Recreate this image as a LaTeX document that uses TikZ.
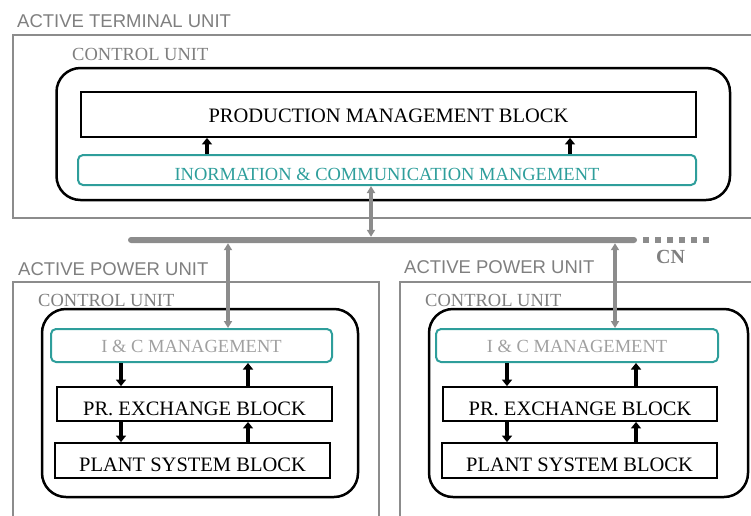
\documentclass[tikz,border=0pt]{standalone}
\usepackage{fontspec}
\setmainfont{Liberation Serif}
\newfontfamily\arialf{Liberation Sans}
\usetikzlibrary{arrows.meta}
\definecolor{boxgray}{HTML}{8C8C8C}
\definecolor{labgray}{HTML}{7F7F7F}
\definecolor{tealc}{HTML}{2E9E9B}
\definecolor{icgray}{HTML}{A0A0A0}
\newcommand{\lowertext}[2]{\raisebox{-#1}[\height][\depth]{#2}}
\begin{document}
\begin{tikzpicture}[x=1pt,y=-1pt,
 unitlabel/.style={anchor=west,inner sep=0,text=labgray,font=\arialf\fontsize{18.5}{20}\selectfont},
 culabel/.style={anchor=west,inner sep=0,text=labgray,font=\fontsize{18.5}{20}\selectfont},
 outerbox/.style={draw=boxgray,line width=2pt},
 cubox/.style={draw=black,line width=2.5pt,rounded corners=24pt,inner sep=0},
 blockbox/.style={draw=black,line width=1.8pt,inner sep=0,font=\fontsize{20.5}{22}\selectfont},
 icbox/.style={draw=tealc,line width=2pt,rounded corners=5pt,inner sep=0,font=\fontsize{18.5}{20}\selectfont},
 barrow/.style={line width=4.5pt,-{Triangle[width=10pt,length=6.5pt]}},
 garrow/.style={draw=boxgray,line width=3.5pt,{Triangle[width=8pt,length=7pt]}-{Triangle[width=8pt,length=7pt]}},
 busline/.style={fill=boxgray,draw=none,rounded corners=3pt,inner sep=0,minimum height=6pt},
 cndash/.style={draw=boxgray,line width=6pt,dash pattern=on 6pt off 6pt},
]
\clip (0,0) rectangle (751,515);

% outer units
\draw[outerbox] (13,35) rectangle (770,218);
\draw[outerbox] (13,282) rectangle (379,530);
\draw[outerbox] (400,282) rectangle (770,530);

\node[unitlabel] (atulab) at (17,21.5) {ACTIVE TERMINAL UNIT};
\node[unitlabel] (apulab1) at (18,269) {ACTIVE POWER UNIT};
\node[unitlabel] (apulab2) at (404,267) {ACTIVE POWER UNIT};

\node[culabel] (culab0) at (72,54) {CONTROL UNIT};
\node[culabel] (culab1) at (38,300) {CONTROL UNIT};
\node[culabel] (culab2) at (425,300) {CONTROL UNIT};

% control unit boxes
\node[cubox,minimum width=673.5pt,minimum height=132pt] (cu0) at (393.25,134) {};
\node[cubox,minimum width=316pt,minimum height=188pt] (cu1) at (200,403) {};
\node[cubox,minimum width=319pt,minimum height=188pt] (cu2) at (588.5,403) {};

% top blocks
\node[blockbox,minimum width=615pt,minimum height=45pt] (pmb) at (388.5,114.5) {\lowertext{1pt}{PRODUCTION MANAGEMENT BLOCK}};
\node[icbox,text=tealc,minimum width=618pt,minimum height=30pt] (icm) at (387,170) {\lowertext{4pt}{INORMATION \& COMMUNICATION MANGEMENT}};

% left power unit blocks
\node[icbox,text=icgray,minimum width=281pt,minimum height=33pt] (ic1) at (191.5,345.5) {\lowertext{1pt}{I \& C MANAGEMENT}};
\node[blockbox,minimum width=275pt,minimum height=34pt] (pr1) at (194.5,404) {\lowertext{5pt}{PR. EXCHANGE BLOCK}};
\node[blockbox,minimum width=275pt,minimum height=35pt] (ps1) at (192.5,460.5) {\lowertext{4pt}{PLANT SYSTEM BLOCK}};

% right power unit blocks
\node[icbox,text=icgray,minimum width=282pt,minimum height=33pt] (ic2) at (577,345.5) {\lowertext{1pt}{I \& C MANAGEMENT}};
\node[blockbox,minimum width=274pt,minimum height=34pt] (pr2) at (580,404) {\lowertext{5pt}{PR. EXCHANGE BLOCK}};
\node[blockbox,minimum width=275pt,minimum height=35pt] (ps2) at (579.5,460.5) {\lowertext{4pt}{PLANT SYSTEM BLOCK}};

% bus
\node[busline,minimum width=509pt] (bus) at (382.5,240) {};
\coordinate (cnend) at (712,240);
\draw[cndash] ([xshift=6pt]bus.east) -- (cnend);
\node[anchor=west,inner sep=0,text=labgray,font=\bfseries\fontsize{20}{22}\selectfont] (cn) at (656,257) {CN};

% black arrows top
\draw[barrow] (icm.north -| 207,0) -- (pmb.south -| 207,0);
\draw[barrow] (icm.north -| 570,0) -- (pmb.south -| 570,0);

% black arrows left
\draw[barrow] (ic1.south -| 121,0) -- (pr1.north -| 121,0);
\draw[barrow] (pr1.north -| 248,0) -- (ic1.south -| 248,0);
\draw[barrow] (pr1.south -| 121,0) -- (ps1.north -| 121,0);
\draw[barrow] (ps1.north -| 248,0) -- (pr1.south -| 248,0);

% black arrows right
\draw[barrow] (ic2.south -| 507,0) -- (pr2.north -| 507,0);
\draw[barrow] (pr2.north -| 636,0) -- (ic2.south -| 636,0);
\draw[barrow] (pr2.south -| 507,0) -- (ps2.north -| 507,0);
\draw[barrow] (ps2.north -| 636,0) -- (pr2.south -| 636,0);

% gray bus arrows
\draw[garrow] (icm.south -| 371,0) -- (bus.north -| 371,0);
\draw[garrow] (ic1.north -| 228,0) -- (bus.south -| 228,0);
\draw[garrow] (ic2.north -| 615,0) -- (bus.south -| 615,0);
\end{tikzpicture}
\end{document}
